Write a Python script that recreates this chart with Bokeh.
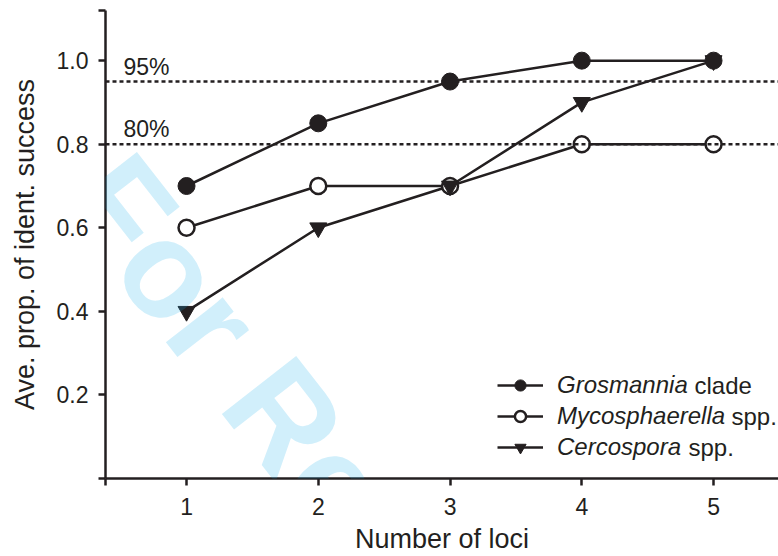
from bokeh.plotting import figure
from bokeh.models import (Span, Label, Legend, LegendItem, FixedTicker,
                          CustomJSTickFormatter, ColumnDataSource)
from bokeh.embed import file_html
from bokeh.resources import INLINE

# ---- data ----
loci = [1, 2, 3, 4, 5]
grosmannia = [0.70, 0.85, 0.95, 1.00, 1.00]
mycosphaerella = [0.60, 0.70, 0.70, 0.80, 0.80]
cercospora = [0.40, 0.60, 0.70, 0.90, 1.00]
thresholds = [0.95, 0.80]
threshold_labels = ["95%", "80%"]
x_ticks = [1, 2, 3, 4, 5]
y_ticks = [0.2, 0.4, 0.6, 0.8, 1.0]

XMIN, XMAX = 0.385, 5.493
YMIN, YMAX = 0.0, 1.12

INK = "#231f20"
FONT = "Liberation Sans"

p = figure(width=778, height=556, output_backend="svg", toolbar_location=None,
           x_range=(XMIN, XMAX), y_range=(YMIN, YMAX),
           min_border_left=105, min_border_top=10, min_border_right=0,
           min_border_bottom=76)
p.outline_line_color = None
p.grid.visible = False
p.background_fill_color = "white"

# watermark (semi-transparent, so marks show through)
wm = Label(x=-11, y=305, x_units="screen", y_units="screen", text="For Review",
           text_font=FONT, text_font_style="bold", text_font_size="137px",
           text_color="#1ab0ec", text_alpha=0.2, angle=-52, angle_units="deg",
           text_baseline="middle", text_align="left")
p.add_layout(wm)

# axes
for ax in (p.xaxis[0], p.yaxis[0]):
    ax.axis_line_width = 2.5
    ax.axis_line_color = INK
    ax.major_tick_line_width = 2.5
    ax.major_tick_line_color = INK
    ax.major_tick_out = 7
    ax.major_tick_in = 0
    ax.minor_tick_line_color = None
    ax.major_label_text_font = FONT
    ax.major_label_text_font_size = "23px"
    ax.major_label_text_color = INK
    ax.axis_label_text_font = FONT
    ax.axis_label_text_font_size = "27px"
    ax.axis_label_text_font_style = "normal"
    ax.axis_label_text_color = INK

p.xaxis.ticker = FixedTicker(ticks=[XMIN] + x_ticks)
p.yaxis.ticker = FixedTicker(ticks=[YMIN] + y_ticks + [YMAX])
p.xaxis.formatter = CustomJSTickFormatter(code="return (tick < 0.9) ? '' : tick.toFixed(0);")
p.yaxis.formatter = CustomJSTickFormatter(code="return (tick < 0.1 || tick > 1.05) ? '' : tick.toFixed(1);")
p.xaxis.axis_label = "Number of loci"
p.yaxis.axis_label = "Ave. prop. of ident. success"
p.xaxis.major_label_standoff = 12
p.yaxis.major_label_standoff = 10
p.xaxis.axis_label_standoff = 6
p.yaxis.axis_label_standoff = 14

# threshold lines
for t, lab in zip(thresholds, threshold_labels):
    p.add_layout(Span(location=t, dimension="width", line_color=INK,
                      line_width=2.5, line_dash="4 3"))
    p.add_layout(Label(x=18, y=t, x_units="screen", y_units="data", text=lab,
                       y_offset=15, text_font=FONT, text_font_size="23px",
                       text_color=INK, text_baseline="middle"))

src = ColumnDataSource(dict(x=loci, g=grosmannia, m=mycosphaerella, c=cercospora))

lm = p.line("x", "m", source=src, line_color=INK, line_width=2.5)
lc = p.line("x", "c", source=src, line_color=INK, line_width=2.5)
lg = p.line("x", "g", source=src, line_color=INK, line_width=2.5)
sm = p.scatter("x", "m", source=src, marker="circle", size=16,
               fill_color="white", line_color=INK, line_width=2.5)
sc = p.scatter("x", "c", source=src, marker="inverted_triangle", size=17,
               fill_color=INK, line_color=INK, line_width=1)
sg = p.scatter("x", "g", source=src, marker="circle", size=17,
               fill_color=INK, line_color=INK, line_width=1)

legend = Legend(items=[LegendItem(label="Grosmannia", renderers=[lg, sg]),
                       LegendItem(label="Mycosphaerella", renderers=[lm, sm]),
                       LegendItem(label="Cercospora", renderers=[lc, sc])],
                location=(392, 17), orientation="vertical",
                label_text_font=FONT, label_text_font_style="italic",
                label_text_font_size="24px", label_text_color=INK,
                label_standoff=14, glyph_width=46, glyph_height=28,
                label_height=28, spacing=3, padding=0, margin=0,
                border_line_alpha=0, background_fill_alpha=0)
p.add_layout(legend, "center")

for xs, ys, txt in [(589, 93, "clade"), (626, 62, "spp."), (583, 31, "spp.")]:
    p.add_layout(Label(x=xs, y=ys, x_units="screen", y_units="screen", text=txt,
                       text_font=FONT, text_font_size="24px", text_color=INK,
                       text_baseline="middle"))

open("out.html", "w").write(file_html(p, INLINE))
